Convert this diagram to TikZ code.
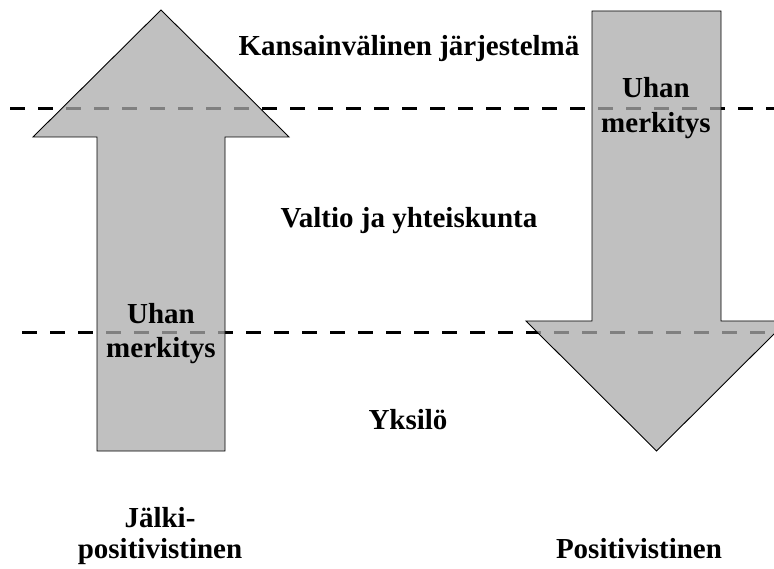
\documentclass[tikz,border=0pt]{standalone}
\usepackage{fontspec}
\setmainfont{Liberation Serif}
\usepackage{xcolor}
\usepackage{tikz}
\usetikzlibrary{positioning}

\begin{document}
\begin{tikzpicture}[
        x=1pt, y=-1pt,
        levelline/.style={line width=3pt, dash pattern=on 15pt off 13pt},
        bigarrow/.style={draw=black, line width=0.9pt, fill=black!33, fill opacity=0.75},
        leveltext/.style={font=\fontsize{29}{35}\selectfont\bfseries, align=center, anchor=base, inner sep=0pt}
      ]
        \clip (0,0) rectangle (774,569);

        % Level borders
        \draw[levelline] (10,109) -- (774,109);
        \draw[levelline] (22,333) -- (774,333);

        % Arrows
        \filldraw[bigarrow] (97,451) -- (97,137) -- (33,137) -- (161,10) -- (289,137) -- (225,137) -- (225,451) -- cycle;
        \filldraw[bigarrow] (592,11) -- (592,321) -- (526,321) -- (656.5,451) -- (787,321) -- (721,321) -- (721,11) -- cycle;

        % Levels
        \node[leveltext] (intl) at (409,56) {Kansainvälinen järjestelmä};
        \node[leveltext] (state) at (409,228) {Valtio ja yhteiskunta};
        \node[leveltext] (indiv) at (408,429) {Yksilö};

        % Threat
        \node[leveltext] (threatup) at (161,358) {Uhan\\merkitys};
        \node[leveltext] (threatdown) at (656,133) {Uhan\\merkitys};

        % Views
        \node[leveltext, font=\fontsize{29}{31}\selectfont\bfseries] (postpos) at (160,558) {Jälki-\\positivistinen};
        \node[leveltext] (pos) at (639,558) {Positivistinen};
      \end{tikzpicture}
\end{document}
